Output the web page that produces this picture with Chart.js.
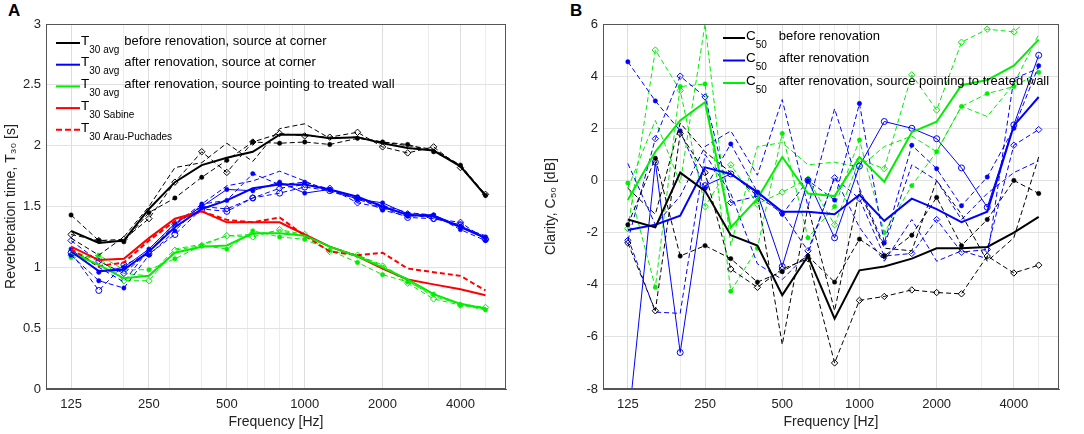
<!DOCTYPE html>
<html>
<head>
<meta charset="utf-8">
<script src="https://cdn.jsdelivr.net/npm/chart.js@4.4.1/dist/chart.umd.min.js"></script>
<style>
  body { margin: 0; background: #fff; width: 1084px; height: 434px; position: relative; overflow: hidden; }
  .panel { position: absolute; top: 0; height: 434px; }
  .letra { position: absolute; top: 1px; font: bold 17px 'Liberation Sans', Arial, sans-serif; color: #000; }
</style>
</head>
<body>
<div class="letra" style="left:8px">A</div>
<div class="letra" style="left:570px">B</div>
<div class="panel" style="left:0;width:540px"><canvas id="graficoT30" width="540" height="434"></canvas></div>
<div class="panel" style="left:540px;width:544px"><canvas id="graficoC50" width="544" height="434"></canvas></div>

<script>
// bandas de tercio de octava
const frecuencias = [125, 160, 200, 250, 315, 400, 500, 630, 800, 1000, 1250, 1600, 2000, 2500, 3150, 4000, 5000];
const ticksMayores = [125, 250, 500, 1000, 2000, 4000];
const ticksMenores = [200, 300, 400, 600, 700, 800, 900, 3000, 5000];

// T30 antes de la renovacion (negro)
const t30AntesProm    = [1.30, 1.20, 1.22, 1.48, 1.70, 1.84, 1.90, 1.95, 2.09, 2.09, 2.06, 2.07, 2.02, 1.98, 1.96, 1.83, 1.59];
const t30AntesPuntos  = [1.43, 1.22, 1.21, 1.45, 1.57, 1.74, 1.88, 2.03, 2.02, 2.03, 2.01, 2.06, 2.03, 2.01, 1.95, 1.84, 1.59];
const t30AntesRombos  = [1.27, 1.22, 1.23, 1.40, 1.70, 1.95, 1.78, 2.03, 2.10, 2.08, 2.07, 2.11, 1.99, 1.94, 1.99, 1.82, 1.60];
const t30AntesSin     = [1.24, 1.10, 1.25, 1.50, 1.82, 1.86, 2.02, 1.87, 2.14, 2.18, 2.06, 2.07, 2.03, 2.00, 1.97, 1.84, 1.60];

// T30 despues, fuente en esquina (azul)
const t30DespuesProm     = [1.13, 0.97, 0.98, 1.13, 1.33, 1.48, 1.55, 1.65, 1.68, 1.68, 1.64, 1.58, 1.50, 1.43, 1.42, 1.33, 1.24];
const t30DespuesSolido   = [1.15, 0.96, 1.00, 1.15, 1.36, 1.50, 1.64, 1.63, 1.70, 1.61, 1.64, 1.56, 1.53, 1.44, 1.43, 1.34, 1.25];
const t30DespuesPuntos   = [1.10, 0.89, 0.83, 1.10, 1.30, 1.52, 1.55, 1.77, 1.68, 1.70, 1.64, 1.58, 1.47, 1.42, 1.43, 1.31, 1.22];
const t30DespuesCirculos = [1.12, 0.81, 1.02, 1.11, 1.27, 1.48, 1.46, 1.57, 1.61, 1.66, 1.63, 1.56, 1.49, 1.41, 1.40, 1.35, 1.23];
const t30DespuesRombos   = [1.22, 1.05, 0.95, 1.13, 1.35, 1.50, 1.48, 1.57, 1.65, 1.68, 1.65, 1.53, 1.49, 1.44, 1.40, 1.37, 1.23];
const t30DespuesSin      = [1.15, 1.00, 0.88, 1.15, 1.36, 1.52, 1.67, 1.71, 1.79, 1.71, 1.62, 1.57, 1.51, 1.45, 1.43, 1.33, 1.26];

// T30 despues, fuente hacia pared tratada (verde)
const t30TratadaProm   = [1.12, 1.02, 0.91, 0.93, 1.12, 1.17, 1.18, 1.28, 1.28, 1.26, 1.17, 1.09, 1.00, 0.90, 0.78, 0.70, 0.66];
const t30TratadaPuntos = [1.08, 1.10, 0.98, 0.98, 1.07, 1.18, 1.15, 1.30, 1.25, 1.23, 1.14, 1.04, 0.94, 0.88, 0.78, 0.69, 0.65];
const t30TratadaRombos = [1.10, 1.08, 0.89, 0.89, 1.14, 1.18, 1.26, 1.25, 1.31, 1.27, 1.13, 1.10, 1.01, 0.87, 0.74, 0.69, 0.67];
const t30TratadaSin    = [1.14, 1.05, 0.95, 0.93, 1.15, 1.19, 1.26, 1.27, 1.30, 1.26, 1.17, 1.10, 1.02, 0.89, 0.76, 0.70, 0.67];

// modelos (rojo)
const t30Sabine = [1.17, 1.06, 1.07, 1.24, 1.40, 1.46, 1.37, 1.37, 1.37, 1.27, 1.17, 1.09, 0.99, 0.90, 0.86, 0.82, 0.77];
const t30Arau   = [1.15, 1.01, 1.04, 1.22, 1.38, 1.46, 1.39, 1.37, 1.41, 1.26, 1.13, 1.10, 1.12, 0.99, 0.96, 0.93, 0.81];

// C50 antes
const c50AntesProm   = [-1.5, -1.8, 0.3, -0.4, -2.1, -2.5, -4.4, -2.9, -5.3, -3.45, -3.3, -3.0, -2.6, -2.6, -2.55, -2.0, -1.4];
const c50AntesPuntos = [-1.7, 0.85, -2.9, -2.5, -3.0, -3.9, -3.5, -2.9, -3.9, -2.25, -2.9, -2.1, -0.65, -2.5, -1.5, 0.0, -0.5];
const c50AntesRombos = [-2.4, -5.0, 1.8, 0.3, -3.4, -4.1, -3.4, -3.0, -7.0, -4.6, -4.45, -4.2, -4.3, -4.35, -2.9, -3.55, -3.25];
const c50AntesSin    = [-0.3, -1.3, 2.2, 1.1, 0.3, -0.6, -6.3, -1.0, -5.0, -0.4, -2.6, -2.7, 0.0, -1.3, -3.1, -2.2, 0.9];

// C50 despues
const c50DespuesProm     = [-1.9, -1.7, -1.35, 0.5, 0.25, -0.45, -1.2, -1.2, -1.3, -0.55, -1.55, -0.7, -1.1, -1.6, -1.2, 2.1, 3.2];
const c50DespuesCirculos = [-9.5, 0.7, -6.6, -0.2, 0.25, -0.5, -3.3, 0.0, -2.2, 0.55, 2.26, 2.0, 1.6, 0.48, -1.03, 2.13, 4.8];
const c50DespuesPuntos   = [4.55, 3.05, 1.9, -0.3, 1.4, -0.45, -1.3, 0.0, -0.75, 2.95, -2.4, 1.35, 0.45, -0.97, 0.13, 2.0, 4.4];
const c50DespuesRombos   = [-2.3, 1.6, 4.0, 3.2, -0.85, -0.6, -1.25, -2.7, 0.1, -0.7, -2.9, -2.8, -1.5, -2.75, -2.65, 1.35, 1.95];
const c50DespuesSin      = [0.65, -1.7, -0.6, 1.3, 1.9, 0.2, 3.1, -1.0, 2.75, -0.3, -2.5, 0.6, 0.0, -1.5, -0.5, 0.3, 0.75];
const c50DespuesSin2     = [-2.2, -5.05, -5.1, 1.0, -0.5, -3.2, -3.8, -2.8, 0.15, -1.8, -3.1, -1.5, -3.1, -2.7, -3.0, 3.9, 4.3];

// C50 pared tratada
const c50TratadaProm   = [-0.75, 1.1, 2.3, 3.0, -1.8, -0.7, 0.9, -0.5, -0.6, 0.9, -0.05, 1.85, 2.25, 3.65, 3.85, 4.4, 5.4];
const c50TratadaPuntos = [-0.1, -4.1, 3.6, 3.7, -4.25, -2.6, 1.8, -2.2, -1.0, 1.55, -2.0, -0.2, 1.1, 2.84, 3.33, 3.6, 4.15];
const c50TratadaRombos = [-1.85, 5.0, 3.45, -1.0, 0.6, -0.9, -0.45, 0.05, -1.7, 0.8, 0.45, 4.05, 2.7, 5.3, 5.8, 5.7, 6.5];
const c50TratadaSin    = [-0.3, 2.3, -0.1, 6.0, -2.5, 1.3, 1.45, 0.6, 0.7, 0.5, 1.3, 1.7, 1.1, 2.85, 2.45, 3.7, 5.6];

const NEGRO = '#000000', AZUL = '#0000ff', VERDE = '#00ee00', ROJO = '#ff0000';
const FUENTE = "'Liberation Sans', Arial, sans-serif";

// arma un dataset: tipo 'prom' = linea gruesa, 'dash' = medicion individual
function serie(valores, color, tipo, marca) {
    const puntos = frecuencias.map((f, i) => ({ x: f, y: valores[i] }));
    const gruesa = tipo === 'prom' || tipo === 'modelo' || tipo === 'modeloDash';
    const ds = {
        data: puntos,
        borderColor: color,
        backgroundColor: color,
        borderWidth: gruesa ? 2 : 1,
        borderDash: (tipo === 'dash' || tipo === 'modeloDash') ? [5, 3] : [],
        tension: 0,
        pointRadius: 0,
        pointHoverRadius: 0,
        order: gruesa ? 0 : 1
    };
    if (marca === 'punto') {
        ds.pointStyle = 'circle'; ds.pointRadius = 2.2; ds.pointBackgroundColor = color; ds.pointBorderWidth = 0.5;
    } else if (marca === 'rombo') {
        ds.pointStyle = 'rectRot'; ds.pointRadius = 3.2; ds.pointBackgroundColor = 'rgba(0,0,0,0)'; ds.pointBorderWidth = 1;
    } else if (marca === 'circulo') {
        ds.pointStyle = 'circle'; ds.pointRadius = 3; ds.pointBackgroundColor = 'rgba(0,0,0,0)'; ds.pointBorderWidth = 1;
    }
    return ds;
}

// leyenda propia con subindices
const leyendaPlugin = {
    id: 'leyenda',
    afterDraw(chart, args, opts) {
        const ctx = chart.ctx;
        ctx.save();
        opts.items.forEach((it, i) => {
            const y = opts.y + i * opts.dy;
            ctx.strokeStyle = it.color;
            ctx.lineWidth = 2;
            ctx.setLineDash(it.dash ? [6, 3] : []);
            ctx.beginPath();
            ctx.moveTo(opts.x, y);
            ctx.lineTo(opts.x + opts.largo, y);
            ctx.stroke();
            ctx.setLineDash([]);
            ctx.fillStyle = '#000';
            ctx.textBaseline = 'middle';
            let x = opts.x + opts.largo + 1;
            ctx.font = '13.5px ' + FUENTE;
            ctx.fillText(it.base, x, y - 2);
            x += ctx.measureText(it.base).width;
            ctx.font = '10px ' + FUENTE;
            ctx.fillText(it.sub, x, y + 7);
            x += ctx.measureText(it.sub).width;
            if (it.text) {
                ctx.font = '13px ' + FUENTE;
                ctx.fillText(it.text, x + opts.hueco, y - 2);
            }
        });
        ctx.restore();
    }
};

// marco completo del area del grafico
const marcoPlugin = {
    id: 'marco',
    afterDatasetsDraw(chart) {
        const a = chart.chartArea, ctx = chart.ctx;
        ctx.save();
        ctx.strokeStyle = '#555';
        ctx.lineWidth = 1;
        ctx.strokeRect(a.left + 0.5, a.top + 0.5, a.right - a.left - 1, a.bottom - a.top - 1);
        ctx.restore();
    }
};

function opciones(yMin, yMax, paso, tituloY, anchoY, derecha, leyenda) {
    return {
        responsive: false,
        animation: false,
        layout: { padding: { top: 24, right: derecha, bottom: 0, left: 0 } },
        plugins: {
            legend: { display: false },
            tooltip: { enabled: false },
            leyenda: leyenda
        },
        scales: {
            x: {
                type: 'logarithmic',
                min: 100,
                max: 6000,
                afterBuildTicks: s => {
                    s.ticks = ticksMayores.concat(ticksMenores).sort((a, b) => a - b).map(v => ({ value: v }));
                },
                afterFit: s => { s.height = 45; },
                ticks: {
                    autoSkip: false,
                    maxRotation: 0,
                    padding: 8,
                    color: '#222',
                    font: { family: FUENTE, size: 13 },
                    callback: v => ticksMayores.includes(v) ? String(v) : ''
                },
                grid: {
                    drawTicks: false,
                    color: c => (c.tick && ticksMayores.includes(c.tick.value)) ? '#dddddd' : '#ececec'
                },
                border: { color: '#555' },
                title: { display: true, text: 'Frequency [Hz]', color: '#222', font: { family: FUENTE, size: 14 }, padding: { top: 0, bottom: 3 } }
            },
            y: {
                min: yMin,
                max: yMax,
                afterFit: s => { s.width = anchoY; },
                ticks: { stepSize: paso, padding: 5, color: '#222', font: { family: FUENTE, size: 13 }, callback: v => String(v) },
                grid: { drawTicks: false, color: '#e2e2e2' },
                border: { color: '#555' },
                title: { display: true, text: tituloY, color: '#222', font: { family: FUENTE, size: 14 }, padding: { top: 3, bottom: 0 } }
            }
        }
    };
}

document.addEventListener("DOMContentLoaded", function () {

    // GRAFICO T30
    const t30 = document.getElementById('graficoT30');
    if (t30) {
        new Chart(t30, {
            type: 'line',
            data: {
                datasets: [
                    serie(t30AntesPuntos, NEGRO, 'dash', 'punto'),
                    serie(t30AntesRombos, NEGRO, 'dash', 'rombo'),
                    serie(t30AntesSin, NEGRO, 'dash', null),
                    serie(t30DespuesPuntos, AZUL, 'dash', 'punto'),
                    serie(t30DespuesCirculos, AZUL, 'dash', 'circulo'),
                    serie(t30DespuesRombos, AZUL, 'dash', 'rombo'),
                    serie(t30DespuesSin, AZUL, 'dash', null),
                    serie(t30DespuesSolido, AZUL, 'solido', 'punto'),
                    serie(t30TratadaPuntos, VERDE, 'dash', 'punto'),
                    serie(t30TratadaRombos, VERDE, 'dash', 'rombo'),
                    serie(t30TratadaSin, VERDE, 'dash', null),
                    serie(t30AntesProm, NEGRO, 'prom', null),
                    serie(t30DespuesProm, AZUL, 'prom', null),
                    serie(t30TratadaProm, VERDE, 'prom', null),
                    serie(t30Arau, ROJO, 'modeloDash', null),
                    serie(t30Sabine, ROJO, 'modelo', null)
                ]
            },
            options: opciones(0, 3, 0.5, 'Reverberation time, T\u2083\u2080 [s]', 46, 34, {
                x: 56, y: 43, dy: 21.7, largo: 24, hueco: 5,
                items: [
                    { color: NEGRO, base: 'T', sub: '30 avg', text: 'before renovation, source at corner' },
                    { color: AZUL, base: 'T', sub: '30 avg', text: 'after renovation, source at corner' },
                    { color: VERDE, base: 'T', sub: '30 avg', text: 'after renovation, source pointing to treated wall' },
                    { color: ROJO, base: 'T', sub: '30 Sabine' },
                    { color: ROJO, dash: true, base: 'T', sub: '30 Arau-Puchades' }
                ]
            }),
            plugins: [leyendaPlugin, marcoPlugin]
        });
    }

    // GRAFICO C50
    const c50 = document.getElementById('graficoC50');
    if (c50) {
        new Chart(c50, {
            type: 'line',
            data: {
                datasets: [
                    serie(c50AntesPuntos, NEGRO, 'dash', 'punto'),
                    serie(c50AntesRombos, NEGRO, 'dash', 'rombo'),
                    serie(c50AntesSin, NEGRO, 'dash', null),
                    serie(c50DespuesPuntos, AZUL, 'dash', 'punto'),
                    serie(c50DespuesRombos, AZUL, 'dash', 'rombo'),
                    serie(c50DespuesSin, AZUL, 'dash', null),
                    serie(c50DespuesSin2, AZUL, 'dash', null),
                    serie(c50DespuesCirculos, AZUL, 'solido', 'circulo'),
                    serie(c50TratadaPuntos, VERDE, 'dash', 'punto'),
                    serie(c50TratadaRombos, VERDE, 'dash', 'rombo'),
                    serie(c50TratadaSin, VERDE, 'dash', null),
                    serie(c50AntesProm, NEGRO, 'prom', null),
                    serie(c50DespuesProm, AZUL, 'prom', null),
                    serie(c50TratadaProm, VERDE, 'prom', null)
                ]
            },
            options: opciones(-8, 6, 2, 'Clarity, C\u2085\u2080 [dB]', 63, 25, {
                x: 183, y: 38, dy: 22.5, largo: 22, hueco: 12,
                items: [
                    { color: NEGRO, base: 'C', sub: '50', text: 'before renovation' },
                    { color: AZUL, base: 'C', sub: '50', text: 'after renovation' },
                    { color: VERDE, base: 'C', sub: '50', text: 'after renovation, source pointing to treated wall' }
                ]
            }),
            plugins: [leyendaPlugin, marcoPlugin]
        });
    }

});
</script>
</body>
</html>
